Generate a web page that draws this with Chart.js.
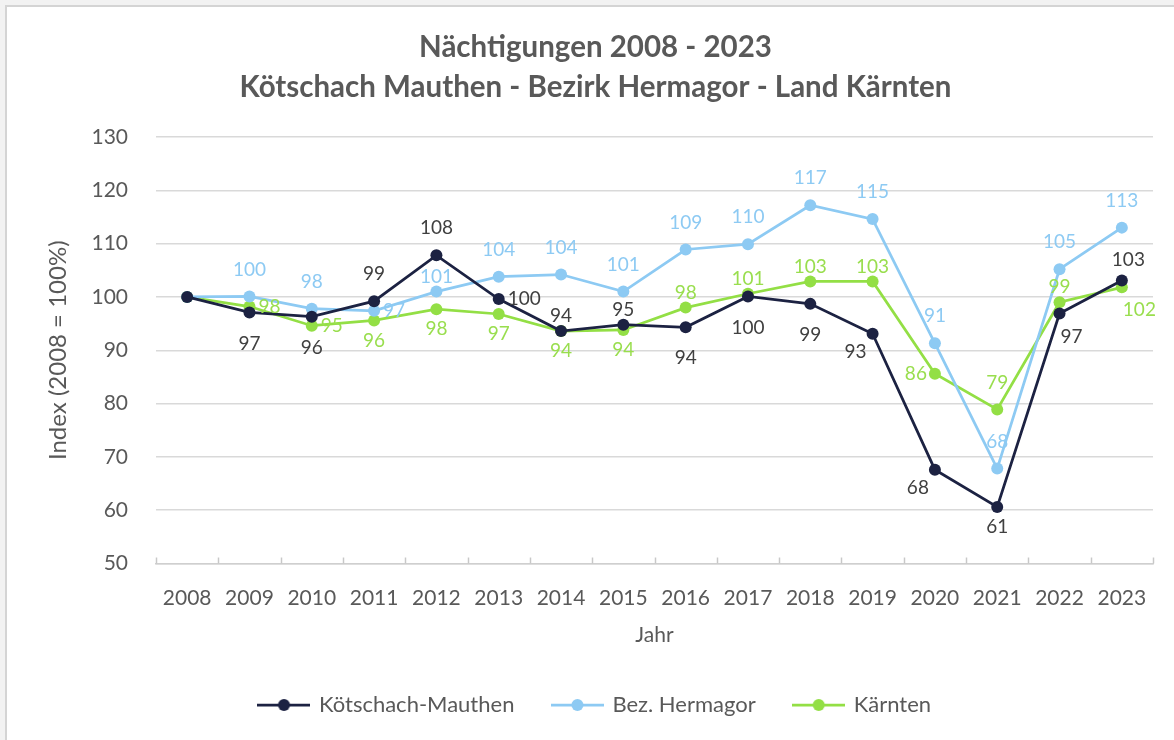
<!DOCTYPE html>
<html>
<head>
<meta charset="utf-8">
<script src="https://cdn.jsdelivr.net/npm/chart.js@4.4.1/dist/chart.umd.min.js"></script>
<style>
  html, body { margin: 0; padding: 0; background: #f2f2f2; }
  #wrap { position: relative; width: 1174px; height: 740px; }
</style>
</head>
<body>
<div id="wrap"><canvas id="chart" width="1174" height="740"></canvas></div>
<script>
const years = ["2008", "2009", "2010", "2011", "2012", "2013", "2014", "2015",
  "2016", "2017", "2018", "2019", "2020", "2021", "2022", "2023"]

const koetschach = [100, 97.1, 96.3, 99.2, 107.8, 99.6, 93.6, 94.8, 94.3, 100.1, 98.7, 93.1, 67.6, 60.6, 96.9, 103.1]
const hermagor = [100, 100.1, 97.8, 97.4, 101.0, 103.8, 104.2, 101.0, 108.9, 109.9, 117.2, 114.6, 91.3, 67.8, 105.2, 113.0]
const kaernten = [100, 98.2, 94.6, 95.6, 97.7, 96.8, 93.6, 93.8, 98.0, 100.6, 102.9, 102.9, 85.6, 78.9, 99.0, 101.8]

const yTicks = [50, 60, 70, 80, 90, 100, 110, 120, 130]

// where each value label sits relative to its point (Excel-style placement)
const placeKoetschach = [null, "B", "B", "T", "T", "R", "t", "t", "B", "B", "B", "BL", "BL", "b", "BR", "TR"]
const placeHermagor = [null, "T", "T", "R", "t", "T", "T", "T", "T", "T", "T", "T", "T", "T", "T", "T"]
const placeKaernten = [null, "R", "R", "b", "b", "b", "b", "b", "t", "t", "t", "t", "L", "T", "t", "BR"]

const FONT = "Lato, 'Open Sans', sans-serif"
const GREY = "#595959"
const NAVY = "#1c2242"
const BLUE = "#8dcaf3"
const GREEN = "#93df45"

function legendMarker(color) {
  const c = document.createElement("canvas")
  c.width = 53
  c.height = 14
  const g = c.getContext("2d")
  g.strokeStyle = color
  g.lineWidth = 2.75
  g.beginPath()
  g.moveTo(0, 7)
  g.lineTo(53, 7)
  g.stroke()
  g.fillStyle = color
  g.beginPath()
  g.arc(26.5, 7, 6, 0, Math.PI * 2)
  g.fill()
  return c
}

const frame = {
  id: "frame",
  beforeDraw(chart) {
    const ctx = chart.ctx
    ctx.save()
    ctx.fillStyle = "#f2f2f2"
    ctx.fillRect(0, 0, chart.width, chart.height)
    ctx.fillStyle = "#ffffff"
    ctx.fillRect(7, 7, chart.width, chart.height)
    ctx.strokeStyle = "#d4d4d4"
    ctx.lineWidth = 2
    ctx.strokeRect(6, 6, chart.width + 10, chart.height + 10)
    ctx.restore()
  }
}

// little tick marks on the category axis, pointing up into the plot
const axisTicks = {
  id: "axisTicks",
  beforeDatasetsDraw(chart) {
    const x = chart.scales.x
    const ctx = chart.ctx
    const step = (x.right - x.left) / years.length
    ctx.save()
    ctx.strokeStyle = "#c8c8c8"
    ctx.lineWidth = 1.5
    for (let i = 0; i <= years.length; i++) {
      const px = Math.round(x.left + i * step) + 0.5
      ctx.beginPath()
      ctx.moveTo(px, x.top - 6)
      ctx.lineTo(px, x.top)
      ctx.stroke()
    }
    ctx.restore()
  }
}

const valueLabels = {
  id: "valueLabels",
  afterDatasetsDraw(chart) {
    const ctx = chart.ctx
    ctx.save()
    ctx.font = "19px " + FONT
    chart.data.datasets.forEach((ds, di) => {
      const meta = chart.getDatasetMeta(di)
      meta.data.forEach((pt, i) => {
        const where = ds.labelPlaces[i]
        if (!where) return
        const text = String(Math.round(ds.data[i]))
        let dx = 0, dy = 0, align = "center"
        if (where === "T") dy = -27
        else if (where === "t") dy = -15
        else if (where === "B") dy = 31
        else if (where === "b") dy = 20
        else if (where === "R") { dx = 9; align = "left" }
        else if (where === "L") { dx = -8; align = "right" }
        else if (where === "BL") { dx = -6; dy = 18; align = "right" }
        else if (where === "BR") { dx = 1; dy = 23; align = "left" }
        else if (where === "TR") { dx = -10; dy = -21; align = "left" }
        ctx.fillStyle = ds.labelColor
        ctx.textAlign = align
        ctx.textBaseline = "middle"
        ctx.fillText(text, pt.x + dx, pt.y + dy)
      })
    })
    ctx.restore()
  }
}

function series(label, data, color, labelColor, places) {
  return {
    label: label,
    data: data,
    borderColor: color,
    backgroundColor: color,
    borderWidth: 2.75,
    pointRadius: 6,
    pointBorderWidth: 0,
    pointBackgroundColor: color,
    tension: 0,
    labelColor: labelColor,
    labelPlaces: places,
    marker: legendMarker(color)
  }
}

new Chart(document.getElementById("chart"), {
  type: "line",
  data: {
    labels: years,
    datasets: [
      series("Kötschach-Mauthen", koetschach, NAVY, "#404040", placeKoetschach),
      series("Bez. Hermagor", hermagor, BLUE, "#8dcaf3", placeHermagor),
      series("Kärnten", kaernten, GREEN, "#99de4e", placeKaernten)
    ]
  },
  options: {
    responsive: false,
    animation: false,
    layout: { padding: { left: 38, right: 21, top: 0, bottom: 14 } },
    plugins: {
      title: {
        display: true,
        text: ["Nächtigungen 2008 - 2023", "Kötschach Mauthen - Bezirk Hermagor - Land Kärnten"],
        color: GREY,
        font: { family: FONT, size: 29.5, weight: "bold", lineHeight: 40 / 29.5 },
        padding: { top: 27, bottom: 30 }
      },
      legend: {
        position: "bottom",
        labels: {
          color: GREY,
          font: { family: FONT, size: 22 },
          usePointStyle: true,
          pointStyleWidth: 48,
          padding: 39,
          generateLabels(chart) {
            return chart.data.datasets.map((ds, i) => ({
              text: ds.label,
              pointStyle: ds.marker,
              fontColor: GREY,
              strokeStyle: ds.borderColor,
              fillStyle: ds.borderColor,
              lineWidth: 0,
              hidden: false,
              datasetIndex: i
            }))
          }
        }
      },
      tooltip: { enabled: false }
    },
    scales: {
      x: {
        offset: true,
        afterFit(scale) {
          scale.height = 91.5
        },
        grid: { display: false, drawTicks: false, offset: true },
        border: { display: true, color: "#cfcfcf", width: 1.5 },
        ticks: { color: GREY, font: { family: FONT, size: 21 }, padding: 22, maxRotation: 0 },
        title: {
          display: true,
          text: "Jahr",
          color: GREY,
          font: { family: FONT, size: 21 },
          padding: { top: 10, bottom: 7.4 }
        }
      },
      y: {
        min: 50,
        max: 130,
        afterBuildTicks(scale) {
          scale.ticks = yTicks.map(v => ({ value: v }))
        },
        afterFit(scale) {
          scale.width = 118
        },
        grid: { color: "#d9d9d9", lineWidth: 1.5, drawTicks: false },
        border: { display: false },
        ticks: { color: GREY, font: { family: FONT, size: 21 }, padding: 28 },
        title: {
          display: true,
          text: "Index (2008 = 100%)",
          color: GREY,
          font: { family: FONT, size: 24 },
          padding: { top: 6 }
        }
      }
    }
  },
  plugins: [frame, axisTicks, valueLabels]
})
</script>
</body>
</html>
